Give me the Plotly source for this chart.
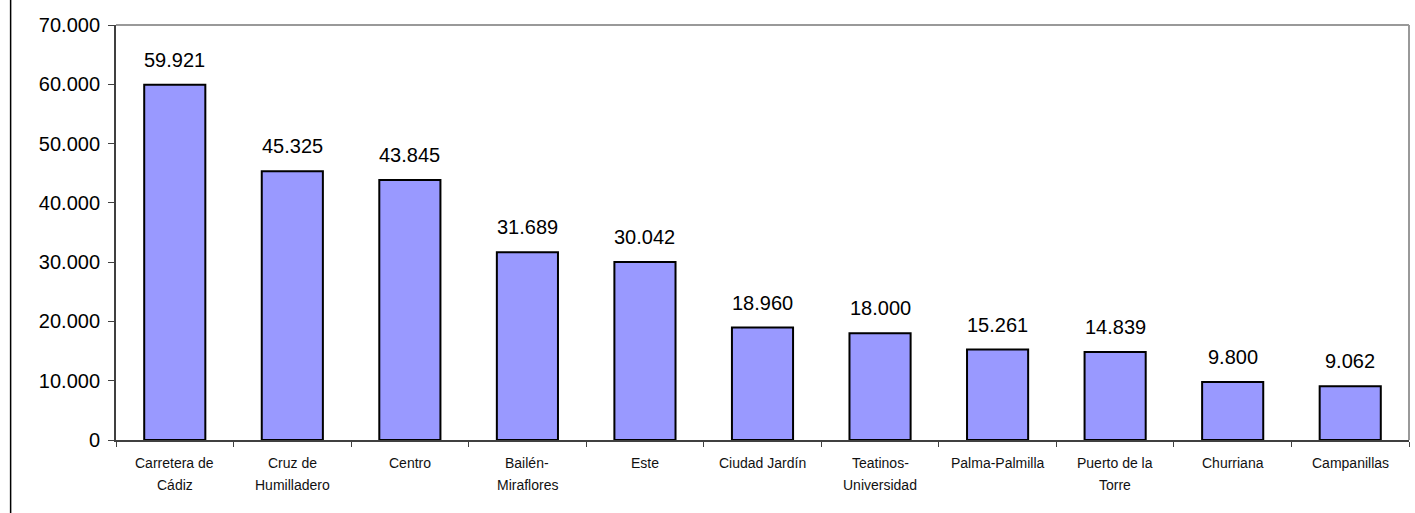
import plotly.graph_objects as go

categories = ["Carretera de<br>Cádiz", "Cruz de<br>Humilladero", "Centro", "Bailén-<br>Miraflores",
              "Este", "Ciudad Jardín", "Teatinos-<br>Universidad", "Palma-Palmilla",
              "Puerto de la<br>Torre", "Churriana", "Campanillas"]
values = [59921, 45325, 43845, 31689, 30042, 18960, 18000, 15261, 14839, 9800, 9062]
y_ticks = [0, 10000, 20000, 30000, 40000, 50000, 60000, 70000]

FONT = "Liberation Sans, Arial"

fig = go.Figure()
fig.add_trace(go.Bar(
    x=categories, y=values,
    marker=dict(color="#9999FF", line=dict(color="black", width=2)),
    width=0.52, hoverinfo="skip",
))

for c, v in zip(categories, values):
    fig.add_annotation(x=c, y=v, text=f"{v:,}".replace(",", "."), showarrow=False,
                       yanchor="bottom", yshift=12,
                       font=dict(family=FONT, size=20, color="black"))
    # category label, one annotation per line for the wider line spacing
    for i, line in enumerate(c.split("<br>")):
        fig.add_annotation(x=c, xref="x", y=0, yref="paper", text=line, showarrow=False,
                           yanchor="middle", yshift=-23 - 22 * i,
                           font=dict(family=FONT, size=14, color="#111111"))

fig.update_layout(
    width=1415, height=513,
    margin=dict(l=116, r=6, t=25, b=73),
    paper_bgcolor="white", plot_bgcolor="white",
    separators=",.",
    showlegend=False,
    font=dict(family=FONT, color="black"),
)
fig.update_xaxes(
    type="category", tickson="boundaries", ticks="outside", ticklen=5, tickcolor="#404040",
    showline=True, linecolor="#404040", linewidth=2, showgrid=False,
    showticklabels=False,
)
fig.update_yaxes(
    range=[0, 70000], tickvals=y_ticks, tickformat=",d", ticks="outside", ticklen=6,
    tickcolor="#404040", showline=True, linecolor="#404040", linewidth=2,
    showgrid=False, zeroline=False, tickfont=dict(size=20, color="black"), ticklabelstandoff=4,
)
# plot-area frame (top and right) and outer left border
fig.add_shape(type="line", xref="paper", yref="paper", x0=0, x1=1, y0=1, y1=1,
              line=dict(color="#999999", width=2))
fig.add_shape(type="line", xref="paper", yref="paper", x0=1, x1=1, y0=0, y1=1,
              line=dict(color="#999999", width=2))
fig.add_shape(type="line", xref="paper", yref="paper", x0=-0.0815, x1=-0.0815, y0=-0.2, y1=1.1,
              line=dict(color="black", width=1.5))

fig.write_html("out.html", config={"displayModeBar": False, "staticPlot": True})

# remove the default page margin so the figure sits at the window origin
with open("out.html", encoding="utf-8") as f:
    html = f.read()
html = html.replace("<head>", "<head><style>html,body{margin:0;padding:0;overflow:hidden;}</style>", 1)
with open("out.html", "w", encoding="utf-8") as f:
    f.write(html)
